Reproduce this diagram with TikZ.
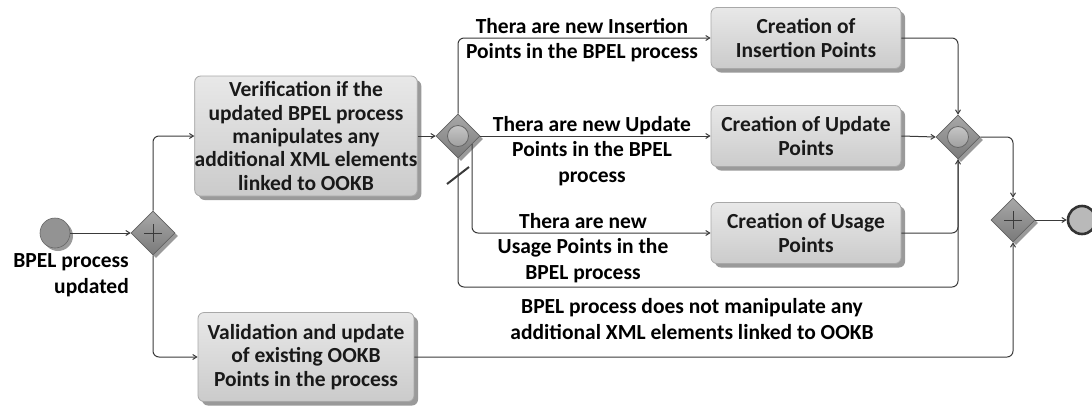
\documentclass[tikz,border=0pt]{standalone}
\usepackage{fontspec}
\setmainfont{Carlito}
\usetikzlibrary{shapes.geometric,arrows.meta,shadows,calc}
\definecolor{boxtop}{HTML}{E8E8E8}
\definecolor{boxbot}{HTML}{CBCBCB}
\definecolor{boxline}{HTML}{A8A8A8}
\definecolor{shadowc}{HTML}{9A9A9A}
\definecolor{gwtop}{HTML}{A8A8A8}
\definecolor{gwbot}{HTML}{7A7A7A}
\definecolor{linec}{HTML}{3A3A3A}
\tikzset{
  task/.style={draw=boxline, line width=0.8pt, rounded corners=6pt, top color=boxtop, bottom color=boxbot,
    drop shadow={shadow xshift=4pt, shadow yshift=-4pt, fill=shadowc, opacity=1},
    font=\fontsize{21.5}{23.3}\selectfont\bfseries, text=black!90, align=center, inner sep=0pt},
  gw/.style={diamond, draw=gwbot!80!black, line width=0.6pt, top color=gwtop, bottom color=gwbot,
    minimum width=44pt, minimum height=44pt, inner sep=0pt,
    drop shadow={shadow xshift=3pt, shadow yshift=-3pt, fill=shadowc, opacity=1}},
  evt/.style={circle, minimum size=30pt, inner sep=0pt},
  flow/.style={draw=linec, line width=1pt, rounded corners=6pt, -{Straight Barb[length=4pt,width=5pt]}},
  plain/.style={draw=linec, line width=1pt, rounded corners=6pt},
  lbl/.style={font=\fontsize{21.5}{25.5}\selectfont\bfseries, align=center, inner sep=0pt, text=black},
}
\begin{document}
\begin{tikzpicture}[x=1pt,y=-1pt]
\useasboundingbox (0,0) rectangle (1092,408);
% events
\node[evt, draw=gray!80!black, fill=gray!85, line width=0.6pt,
  drop shadow={shadow xshift=3pt, shadow yshift=-3pt, fill=shadowc, opacity=1}] (start) at (55,233) {};
\node[lbl, align=right, anchor=north east, font=\fontsize{21.5}{26}\selectfont\bfseries] (startl) at (129,253) {BPEL process\\updated};
\node[evt, draw=black!80, fill=gray!55, line width=2.6pt, minimum size=28pt] (end) at (1082,220) {};
% gateways
\node[gw] (g1) at (153,233) {};
\draw[linec, line width=1pt] ($(g1)+(-9,0)$) -- ($(g1)+(9,0)$) ($(g1)+(0,-9)$) -- ($(g1)+(0,9)$);
\node[gw] (g2) at (458,136) {};
\node[circle, draw=gray!80!black, line width=0.8pt, minimum size=21pt, inner sep=0pt, top color=gray!45, bottom color=gray!75] (g2c) at (g2) {};
\node[gw] (g3) at (958,137) {};
\node[circle, draw=gray!80!black, line width=0.8pt, minimum size=21pt, inner sep=0pt, top color=gray!45, bottom color=gray!75] (g3c) at (g3) {};
\node[gw] (g4) at (1013,220) {};
\draw[linec, line width=1pt] ($(g4)+(-9,0)$) -- ($(g4)+(9,0)$) ($(g4)+(0,-9)$) -- ($(g4)+(0,9)$);
% tasks
\node[task, minimum width=216pt, minimum height=120pt] (ver) at (306,136) {Verification if the\\updated BPEL process\\manipulates any\\additional XML elements\\linked to OOKB};
\node[task, minimum width=216pt, minimum height=89pt] (val) at (306,357) {Validation and update\\of existing OOKB\\Points in the process};
\node[task, minimum width=190pt, minimum height=61pt] (ins) at (806,38) {Creation of\\Insertion Points};
\node[task, minimum width=190pt, minimum height=61pt] (upd) at (806,136) {Creation of Update\\Points};
\node[task, minimum width=190pt, minimum height=61pt] (use) at (806,233) {Creation of Usage\\Points};
% coordinates
\coordinate (g2b) at (472,144);
\coordinate (dl) at (458,287);
% flows
\draw[flow] (start) -- (g1);
\draw[flow] (g1.north) |- (ver.west);
\draw[flow] (g1.south) |- (val.west);
\draw[flow] (ver.east) -- (g2.west);
\draw[flow] (g2.north) |- (ins.west);
\draw[flow] (g2.east) -- (upd.west);
\draw[flow] (g2b) |- (use.west);
\draw[flow] (g2.south) -- (dl) -| (g3.south);
\draw[flow] (ins.east) -| (g3.north);
\draw[flow] (upd.east) -- (g3.west);
\draw[plain] (use.east) -| (g3.south);
\draw[flow] (g3.east) -| (g4.north);
\draw[flow] (val.east) -| (g4.south);
\draw[flow] (g4.east) -- (end.west);
% default marker
\coordinate (s1) at (447,184);
\coordinate (s2) at (469,167);
\draw[linec, line width=2pt] (s1) -- (s2);
% labels
\node[lbl] (l1) at (582,40) {Thera are new Insertion\\Points in the BPEL process};
\node[lbl] (l2) at (592,151) {Thera are new Update\\Points in the BPEL\\process};
\node[lbl] (l3) at (583,248) {Thera are new\\Usage Points in the\\BPEL process};
\node[lbl] (l4) at (692,319) {BPEL process does not manipulate any\\additional XML elements linked to OOKB};
\end{tikzpicture}
\end{document}
